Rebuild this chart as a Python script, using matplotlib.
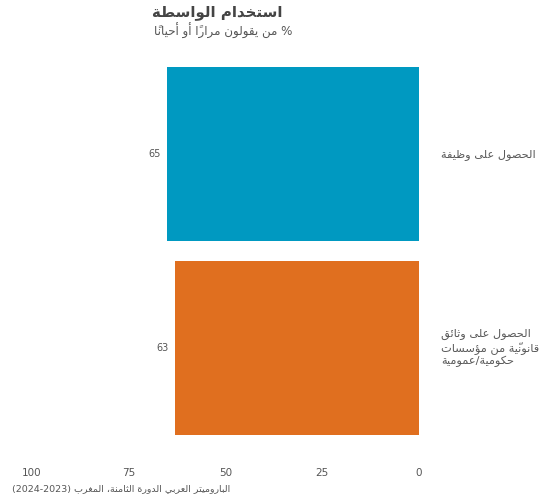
"""Wasta usage bar chart (Arabic Barometer, Morocco)"""

import re

import matplotlib
matplotlib.use("Agg")
import matplotlib.pyplot as plt
from matplotlib import transforms

# data
categories = ["الحصول على وظيفة", "الحصول على وثائق\nقانونيّة من مؤسسات\nحكومية/عمومية"]
values = [65, 63]
bar_colors = ["#0099c1", "#e06f1f"]
xticks = [100, 75, 50, 25, 0]
title = "استخدام الواسطة"
subtitle = "% من يقولون مراراً أو أحياناً"
caption = "الباروميتر العربي الدورة الثامنة، المغرب (2023-2024)"

# --- minimal arabic shaping: matplotlib lays glyphs out left to right, unjoined
FOUR = {'ئ': 0xFE89, 'ب': 0xFE8F, 'ت': 0xFE95, 'ث': 0xFE99, 'ج': 0xFE9D, 'ح': 0xFEA1,
        'خ': 0xFEA5, 'س': 0xFEB1, 'ش': 0xFEB5, 'ص': 0xFEB9, 'ض': 0xFEBD, 'ط': 0xFEC1,
        'ظ': 0xFEC5, 'ع': 0xFEC9, 'غ': 0xFECD, 'ف': 0xFED1, 'ق': 0xFED5, 'ك': 0xFED9,
        'ل': 0xFEDD, 'م': 0xFEE1, 'ن': 0xFEE5, 'ه': 0xFEE9, 'ي': 0xFEF1}
TWO = {'آ': 0xFE81, 'أ': 0xFE83, 'ؤ': 0xFE85, 'إ': 0xFE87, 'ا': 0xFE8D, 'ة': 0xFE93,
       'د': 0xFEA9, 'ذ': 0xFEAB, 'ر': 0xFEAD, 'ز': 0xFEAF, 'و': 0xFEED, 'ى': 0xFEEF}
FORMS = {**FOUR, **TWO}
LAMALEF = {'آ': 0xFEF5, 'أ': 0xFEF7, 'إ': 0xFEF9, 'ا': 0xFEFB}
MARKS = set(chr(c) for c in range(0x064B, 0x0653))


def shape(text):
  chars = list(text)
  n = len(chars)

  def neighbour(j, step):
    j += step
    while 0 <= j < n and chars[j] in MARKS:
      j += step
    return chars[j] if 0 <= j < n else ''

  out = []
  i = 0
  while i < n:
    c = chars[i]
    if c not in FORMS:
      out.append(c)
      i += 1
      continue
    joins_prev = neighbour(i, -1) in FOUR
    if c == 'ل' and i + 1 < n and chars[i + 1] in LAMALEF:
      out.append(chr(LAMALEF[chars[i + 1]] + (1 if joins_prev else 0)))
      i += 2
      continue
    joins_next = c in FOUR and neighbour(i, 1) in FORMS
    base = FORMS[c]
    if joins_prev and joins_next:
      out.append(chr(base + 3))
    elif joins_prev:
      out.append(chr(base + 1))
    elif joins_next:
      out.append(chr(base + 2))
    else:
      out.append(chr(base))
    i += 1
  return ''.join(out)


def rtl(text):
  lines = []
  for line in text.split("\n"):
    clusters = []
    for ch in shape(line):
      if ch in MARKS and clusters:
        clusters[-1] += ch
      else:
        clusters.append(ch)
    vis = ''.join(clusters[::-1])
    vis = re.sub(r'[0-9]+', lambda m: m.group(0)[::-1], vis)
    vis = vis.translate(str.maketrans('()', ')('))
    lines.append(vis)
  return "\n".join(lines)


plt.rcParams['font.family'] = ['DejaVu Sans']
W, H = 549, 498
fig = plt.figure(figsize=(W / 100, H / 100), dpi=100)

# axes spans the bars; x runs 100 -> 0 right to left
ax = fig.add_axes([32 / W, 63 / H, 387 / W, 368 / H])
ypos = list(range(len(values)))
ax.barh(ypos, values, height=0.9, color=bar_colors)
ax.set_xlim(100, 0)
ax.set_ylim(len(values) - 0.55, -0.45)
ax.set_xticks(xticks)
ax.set_xticklabels([str(t) for t in xticks], fontsize=7.5, color="#555555")
ax.tick_params(axis='x', length=0, pad=24)
ax.set_yticks([])
for sp in ax.spines.values():
  sp.set_visible(False)

for y, v in zip(ypos, values):
  ax.annotate(str(v), xy=(v, y), xytext=(-5, 0), textcoords='offset points',
              ha='right', va='center', fontsize=7, color="#555555")

# category names sit to the right of the bars, flush on their left edge
lab_tr = transforms.blended_transform_factory(fig.transFigure, ax.transData)
for y, cat in zip(ypos, categories):
  ax.text(441 / W, y, rtl(cat), transform=lab_tr, ha='left', va='center',
          fontsize=8.2, color="#5a5a5a", linespacing=1.15, multialignment='left')

fig.text(217 / W, 1 - 13 / H, rtl(title), ha='center', va='center',
         fontsize=10.8, fontweight='bold', color="#444444")
fig.text(223 / W, 1 - 31 / H, rtl(subtitle), ha='center', va='center',
         fontsize=8.6, color="#555555")
fig.text(12 / W, 1 - 489 / H, rtl(caption), ha='left', va='center',
         fontsize=6.8, color="#555555")

fig.savefig("out.png", dpi=100)
